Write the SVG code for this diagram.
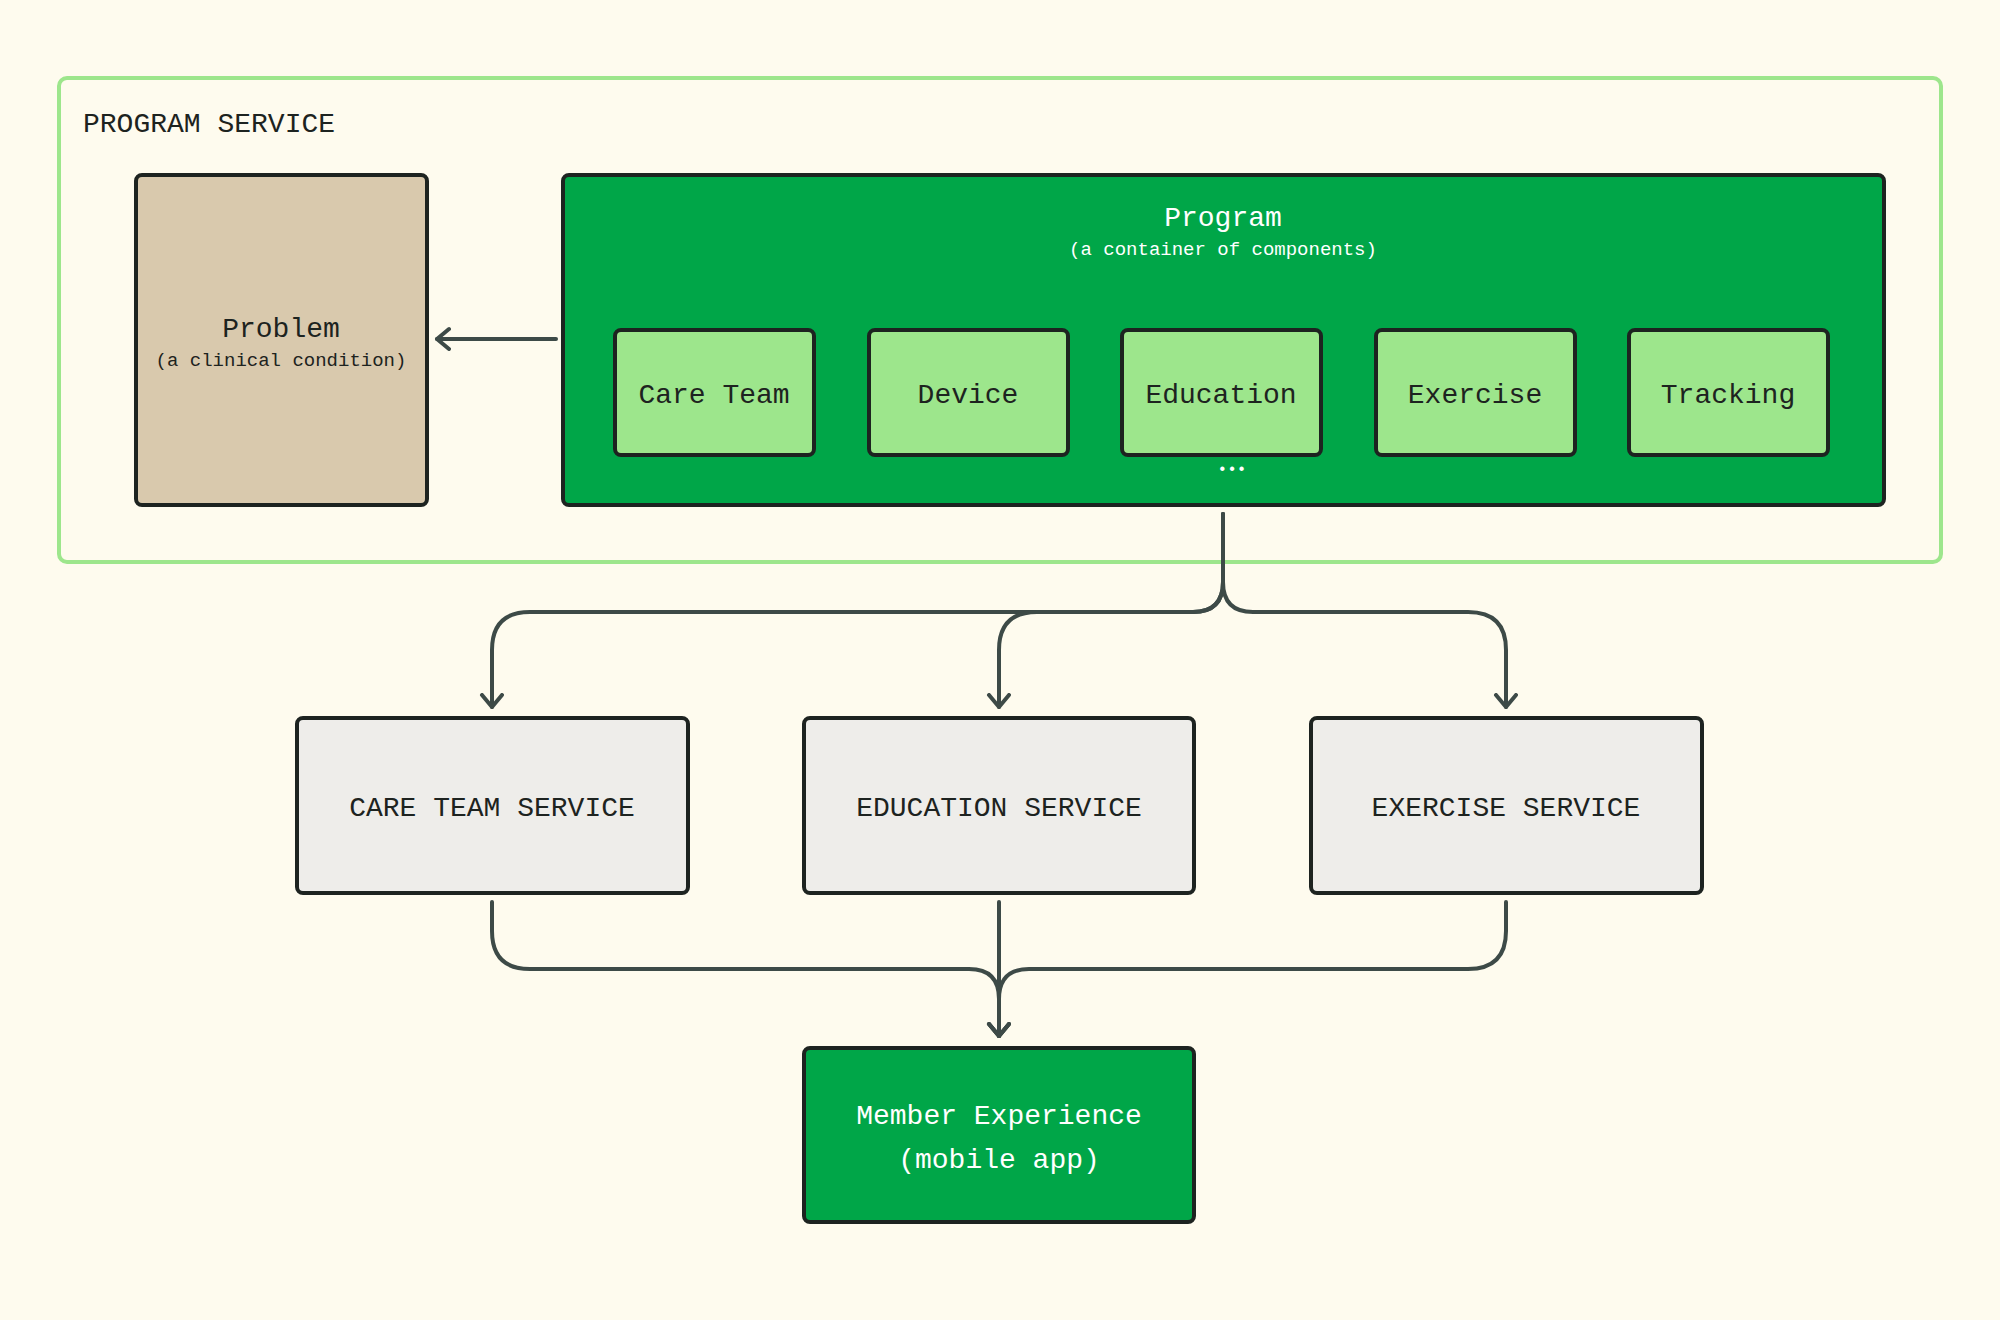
<svg xmlns="http://www.w3.org/2000/svg" width="2000" height="1320" viewBox="0 0 2000 1320">
<style>
text{font-family:"Liberation Mono","DejaVu Sans Mono",monospace;text-anchor:middle}
.box{stroke:#1d2320;stroke-width:4}
.dark{fill:#1d2320}
.white{fill:#ffffff}
.conn{fill:none;stroke:#3d4a47;stroke-width:4;stroke-linecap:round}
</style>
<defs>
<marker id="ah" markerUnits="userSpaceOnUse" markerWidth="24" markerHeight="30" refX="14" refY="12" orient="auto">
<path d="M2,2 L14,12 L2,22" fill="none" stroke="#3d4a47" stroke-width="4" stroke-linecap="round" stroke-linejoin="round"/>
</marker>
</defs>
<rect width="2000" height="1320" fill="#fefbee"/>
<g id="program-service">
<rect x="59" y="78" width="1882" height="484" rx="8" fill="none" stroke="#9de68c" stroke-width="4"/>
<text x="83" y="132" font-size="28" class="dark" style="text-anchor:start">PROGRAM SERVICE</text>
</g>
<g id="problem">
<rect x="136" y="175" width="291" height="330" rx="6" fill="#d9c9ad" class="box"/>
<text x="281" y="337" font-size="28" class="dark">Problem</text>
<text x="281" y="366" font-size="19" class="dark">(a clinical condition)</text>
</g>
<g id="program">
<rect x="563" y="175" width="1321" height="330" rx="6" fill="#00a648" class="box"/>
<text x="1223" y="226" font-size="28" class="white">Program</text>
<text x="1223" y="255" font-size="19" class="white">(a container of components)</text>
<text x="1232" y="474" font-size="16" class="white">•••</text>
</g>
<g id="care-team"><rect x="615" y="330" width="199" height="125" rx="6" fill="#9de68c" class="box"/><text x="714" y="403" font-size="28" class="dark">Care Team</text></g>
<g id="device"><rect x="869" y="330" width="199" height="125" rx="6" fill="#9de68c" class="box"/><text x="968" y="403" font-size="28" class="dark">Device</text></g>
<g id="education"><rect x="1122" y="330" width="199" height="125" rx="6" fill="#9de68c" class="box"/><text x="1221" y="403" font-size="28" class="dark">Education</text></g>
<g id="exercise"><rect x="1376" y="330" width="199" height="125" rx="6" fill="#9de68c" class="box"/><text x="1475" y="403" font-size="28" class="dark">Exercise</text></g>
<g id="tracking"><rect x="1629" y="330" width="199" height="125" rx="6" fill="#9de68c" class="box"/><text x="1728" y="403" font-size="28" class="dark">Tracking</text></g>
<g id="care-team-service"><rect x="297" y="718" width="391" height="175" rx="6" fill="#eeedea" class="box"/><text x="492" y="816" font-size="28" class="dark">CARE TEAM SERVICE</text></g>
<g id="education-service"><rect x="804" y="718" width="390" height="175" rx="6" fill="#eeedea" class="box"/><text x="999" y="816" font-size="28" class="dark">EDUCATION SERVICE</text></g>
<g id="exercise-service"><rect x="1311" y="718" width="391" height="175" rx="6" fill="#eeedea" class="box"/><text x="1506" y="816" font-size="28" class="dark">EXERCISE SERVICE</text></g>
<g id="member-experience"><rect x="804" y="1048" width="390" height="174" rx="6" fill="#00a648" class="box"/>
<text x="999" y="1124" font-size="28" class="white">Member Experience</text>
<text x="999" y="1168" font-size="28" class="white">(mobile app)</text></g>
<g id="connectors">
<path class="conn" d="M556,339 H437" marker-end="url(#ah)"/>
<path class="conn" d="M1223,514 V582 Q1223,612 1193,612 H530 Q492,612 492,650 V707" marker-end="url(#ah)"/>
<path class="conn" d="M1223,514 V582 Q1223,612 1193,612 H1037 Q999,612 999,650 V707" marker-end="url(#ah)"/>
<path class="conn" d="M1223,514 V582 Q1223,612 1253,612 H1468 Q1506,612 1506,650 V707" marker-end="url(#ah)"/>
<path class="conn" d="M492,902 V931 Q492,969 530,969 H969 Q999,969 999,999 V1036" marker-end="url(#ah)"/>
<path class="conn" d="M999,902 V1036" marker-end="url(#ah)"/>
<path class="conn" d="M1506,902 V931 Q1506,969 1468,969 H1029 Q999,969 999,999 V1036" marker-end="url(#ah)"/>
</g>
</svg>
